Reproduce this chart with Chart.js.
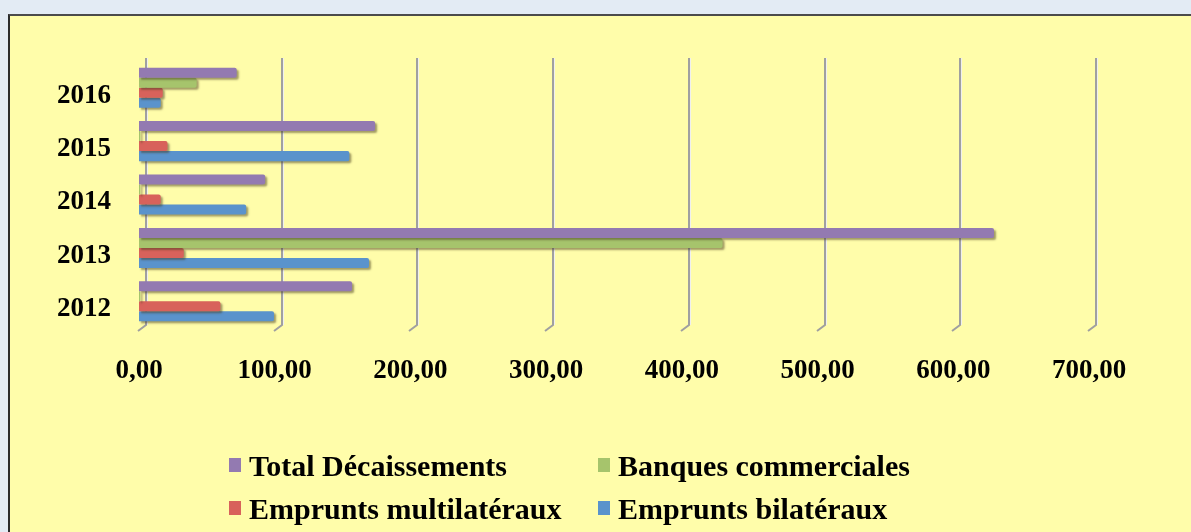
<!DOCTYPE html>
<html lang="fr">
<head>
<meta charset="utf-8">
<title>Décaissements 2012-2016</title>
<script src="https://cdn.jsdelivr.net/npm/chart.js@4.4.1/dist/chart.umd.min.js"></script>
<style>
  html, body { margin: 0; padding: 0; }
  body {
    width: 1191px; height: 532px; overflow: hidden; position: relative;
    background: #e3ebf4;
  }
  #panel {
    position: absolute; left: 8px; top: 14px; right: -4px; bottom: -4px;
    background: #fffdaa; border-left: 2px solid #2b2b2b; border-top: 2px solid #4b4b4b;
  }
  #wrap { position: absolute; left: 0; top: 0; width: 1191px; height: 532px; }
</style>
</head>
<body>
<div id="panel"></div>
<div id="wrap"><canvas id="myChart"></canvas></div>
<script>
// données (en chronologique)
const years = ['2012', '2013', '2014', '2015', '2016'];
const bilateraux = [99.5, 169.5, 79, 155, 16];
const multilateraux = [60, 33, 16, 21, 17.5];
const banques = [1, 430, 1, 1, 42.5];
const total = [157, 630, 93, 174, 72];

const seriesNames = ['Total Décaissements', 'Banques commerciales', 'Emprunts multilatéraux', 'Emprunts bilatéraux'];
const seriesColors = ['#937ab1', '#a6c46c', '#d8625b', '#5a93cc'];
const seriesValues = [total, banques, multilateraux, bilateraux];
const xMax = 700;
const xStep = 100;

// 2016 en haut, 2012 en bas
const labels = years.slice().reverse();

const datasets = seriesNames.map(function(name, i) {
  return {
    label: name,
    data: seriesValues[i].slice().reverse(),
    backgroundColor: seriesColors[i],
    borderWidth: 0,
    borderRadius: { topRight: 2, bottomRight: 2 },
    borderSkipped: 'start',
    barPercentage: 1,
    categoryPercentage: 0.75
  };
});

const serif = "'Liberation Serif', serif";

// grille verticale décalée (effet 3D), dessinée derrière les barres
const backGrid = {
  id: 'backGrid',
  beforeDatasetsDraw(chart) {
    const c = chart.ctx;
    const xs = chart.scales.x;
    c.save();
    xs.ticks.forEach(function(t) {
      const px = Math.round(xs.getPixelForValue(t.value)) + 7;
      c.strokeStyle = '#a0a0a0';
      c.lineWidth = 2;
      c.beginPath();
      c.moveTo(px, 58);
      c.lineTo(px, 325);
      c.lineTo(px - 8, 331);
      c.stroke();
      c.strokeStyle = '#efefef';
      c.lineWidth = 1;
      c.beginPath();
      c.moveTo(px + 1.5, 58);
      c.lineTo(px + 1.5, 325);
      c.stroke();
    });
    c.restore();
  }
};

// ombre portée sous les barres
const barShadow = {
  id: 'barShadow',
  beforeDatasetsDraw(chart) {
    const c = chart.ctx;
    c.save();
    c.shadowColor = 'rgba(70, 60, 30, 0.5)';
    c.shadowOffsetX = 2;
    c.shadowOffsetY = 2;
    c.shadowBlur = 2;
  },
  afterDatasetsDraw(chart) {
    chart.ctx.restore();
  }
};

// légende sur deux colonnes, sous le graphique
const twoColLegend = {
  id: 'twoColLegend',
  afterDraw(chart) {
    const c = chart.ctx;
    const colX = [229, 598];
    const rowY = [467, 510];
    c.save();
    c.font = "bold 30px 'Liberation Serif', serif";
    c.textBaseline = 'middle';
    chart.data.datasets.forEach(function(ds, i) {
      const x = colX[i % 2];
      const y = rowY[Math.floor(i / 2)];
      c.fillStyle = ds.backgroundColor;
      c.fillRect(x, y - 9, 12, 14);
      c.fillStyle = '#000';
      c.fillText(ds.label, x + 20, y + 1);
    });
    c.restore();
  }
};

const ctx = document.getElementById('myChart').getContext('2d');
const myChart = new Chart(ctx, {
  type: 'bar',
  data: { labels: labels, datasets: datasets },
  options: {
    indexAxis: 'y',
    responsive: true,
    maintainAspectRatio: false,
    animation: false,
    layout: { padding: { top: 61, right: 102, left: 0, bottom: 112 } },
    plugins: {
      legend: { display: false },
      tooltip: { enabled: false }
    },
    scales: {
      x: {
        min: 0,
        max: xMax,
        grid: { display: false },
        border: { display: false },
        ticks: {
          stepSize: xStep,
          padding: 19,
          color: '#000',
          font: { family: serif, size: 27, weight: 'bold' },
          callback: function(v) { return v.toFixed(2).replace('.', ','); }
        },
        afterFit: function(s) { s.height = 92; }
      },
      y: {
        grid: { display: false },
        border: { display: false },
        ticks: {
          padding: 20,
          labelOffset: 8,
          color: '#000',
          font: { family: serif, size: 27, weight: 'bold' }
        },
        afterFit: function(s) { s.width = 139; }
      }
    }
  },
  plugins: [backGrid, barShadow, twoColLegend]
});
</script>
</body>
</html>
